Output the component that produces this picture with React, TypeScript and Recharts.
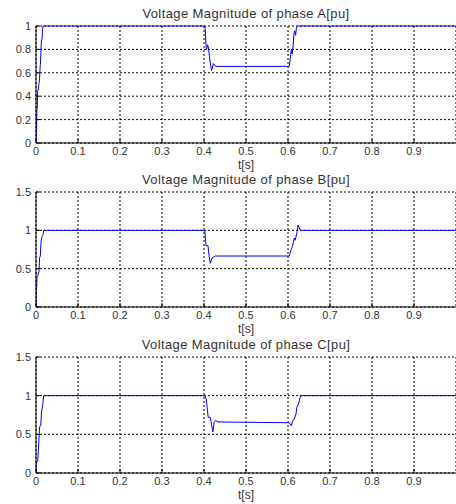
import React from "react";
import {
  LineChart,
  Line,
  XAxis,
  YAxis,
  CartesianGrid,
  Label,
} from "recharts";

// time [s] and magnitude [pu]
const timeA = [
  0, 0.001, 0.0015, 0.002, 0.003, 0.004, 0.006, 0.007, 0.008, 0.01, 0.0105, 0.012,
  0.013, 0.0145, 0.0155, 0.017, 0.4, 0.4024, 0.4048, 0.4063, 0.4085, 0.4103, 0.4143,
  0.418, 0.42, 0.4222, 0.424, 0.4286, 0.603, 0.606, 0.608, 0.61, 0.612, 0.614, 0.616,
  0.618, 0.62, 0.622, 1,
];
const phaseA = [
  0, 0.1, 0.11, 0.28, 0.3, 0.44, 0.47, 0.51, 0.52, 0.66, 0.67, 0.8, 0.88, 0.89, 0.97,
  1, 1, 1, 0.83, 0.8, 0.84, 0.82, 0.7, 0.62, 0.64, 0.68, 0.67, 0.655, 0.655, 0.74,
  0.8, 0.76, 0.82, 0.93, 0.96, 0.92, 0.98, 1, 1,
];

const timeB = [
  0, 0.0008, 0.0016, 0.0024, 0.0048, 0.0071, 0.0087, 0.0103, 0.0119, 0.0143, 0.0167,
  0.0183, 0.4016, 0.4048, 0.4095, 0.4127, 0.415, 0.419, 0.423, 0.427, 0.603, 0.607,
  0.611, 0.615, 0.617, 0.621, 0.624, 0.627, 0.629, 1,
];
const phaseB = [
  0, 0.25, 0.25, 0.39, 0.42, 0.46, 0.65, 0.66, 0.85, 0.92, 0.94, 1, 1, 0.8, 0.8, 0.64,
  0.57, 0.64, 0.65, 0.665, 0.665, 0.74, 0.8, 0.9, 0.87, 0.96, 1.07, 1.03, 1, 1,
];

const timeC = [
  0, 0.0008, 0.004, 0.0056, 0.0071, 0.0087, 0.0111, 0.0135, 0.0159, 0.0183, 0.4016,
  0.405, 0.407, 0.41, 0.415, 0.418, 0.421, 0.424, 0.428, 0.433, 0.603, 0.608, 0.611,
  0.615, 0.619, 0.621, 0.625, 0.628, 0.631, 1,
];
const phaseC = [
  0, 0.14, 0.15, 0.29, 0.44, 0.6, 0.61, 0.81, 0.875, 1, 1, 0.96, 0.875, 0.72, 0.72,
  0.625, 0.53, 0.65, 0.68, 0.66, 0.65, 0.61, 0.67, 0.7, 0.76, 0.85, 0.89, 0.96, 1, 1,
];

const xTicks = [0, 0.1, 0.2, 0.3, 0.4, 0.5, 0.6, 0.7, 0.8, 0.9];
const yTicksA = [0, 0.2, 0.4, 0.6, 0.8, 1];
const yTicksBC = [0, 0.5, 1, 1.5];

const panels = [
  { title: "Voltage Magnitude of phase A[pu]", t: timeA, v: phaseA, yTicks: yTicksA, top: 0, height: 174, marginTop: 26, titleY: 6 },
  { title: "Voltage Magnitude of phase B[pu]", t: timeB, v: phaseB, yTicks: yTicksBC, top: 170, height: 168, marginTop: 22, titleY: 172 },
  { title: "Voltage Magnitude of phase C[pu]", t: timeC, v: phaseC, yTicks: yTicksBC, top: 335, height: 169, marginTop: 22, titleY: 337 },
];

const font = "'Liberation Sans', Arial, sans-serif";
const tickStyle = { fontSize: 11, fill: "#333", fontFamily: font };

export default function App() {
  return (
    <div
      style={{
        position: "absolute",
        left: 0,
        top: 0,
        width: 456,
        height: 504,
        overflow: "hidden",
        background: "#fff",
        fontFamily: font,
      }}
    >
      {panels.map((p) => {
        const data = p.t.map((t, i) => ({ t, v: p.v[i] }));
        const yMax = p.yTicks[p.yTicks.length - 1];
        return (
          <React.Fragment key={p.title}>
            <div style={{ position: "absolute", left: 0, top: p.top }}>
              <LineChart
                width={460}
                height={p.height}
                data={data}
                margin={{ top: p.marginTop, right: 4, left: 0, bottom: 0 }}
              >
                <CartesianGrid stroke="#000" strokeDasharray="2 2" strokeWidth={1} />
                <XAxis
                  dataKey="t"
                  type="number"
                  domain={[0, 1]}
                  ticks={xTicks}
                  height={31}
                  stroke="#000"
                  tick={tickStyle}
                  tickSize={-4}
                  tickMargin={8}
                  allowDataOverflow
                >
                  <Label
                    value="t[s]"
                    position="insideBottom"
                    offset={5}
                    style={{ fontSize: 12, fill: "#333", fontFamily: font }}
                  />
                </XAxis>
                <XAxis
                  xAxisId="top"
                  dataKey="t"
                  type="number"
                  domain={[0, 1]}
                  orientation="top"
                  height={0}
                  tick={false}
                  tickLine={false}
                  stroke="#000"
                />
                <YAxis
                  type="number"
                  domain={[0, yMax]}
                  ticks={p.yTicks}
                  width={36}
                  stroke="#000"
                  tick={tickStyle}
                  tickSize={-4}
                  tickMargin={9}
                />
                <Line
                  dataKey="v"
                  type="linear"
                  stroke="#0000ff"
                  strokeWidth={1}
                  dot={false}
                  isAnimationActive={false}
                />
              </LineChart>
            </div>
            <div
              style={{
                position: "absolute",
                top: p.titleY,
                left: 36,
                width: 420,
                textAlign: "center",
                fontSize: 13,
                letterSpacing: 0.4,
                color: "#333",
                lineHeight: "16px",
              }}
            >
              {p.title}
            </div>
          </React.Fragment>
        );
      })}
    </div>
  );
}
